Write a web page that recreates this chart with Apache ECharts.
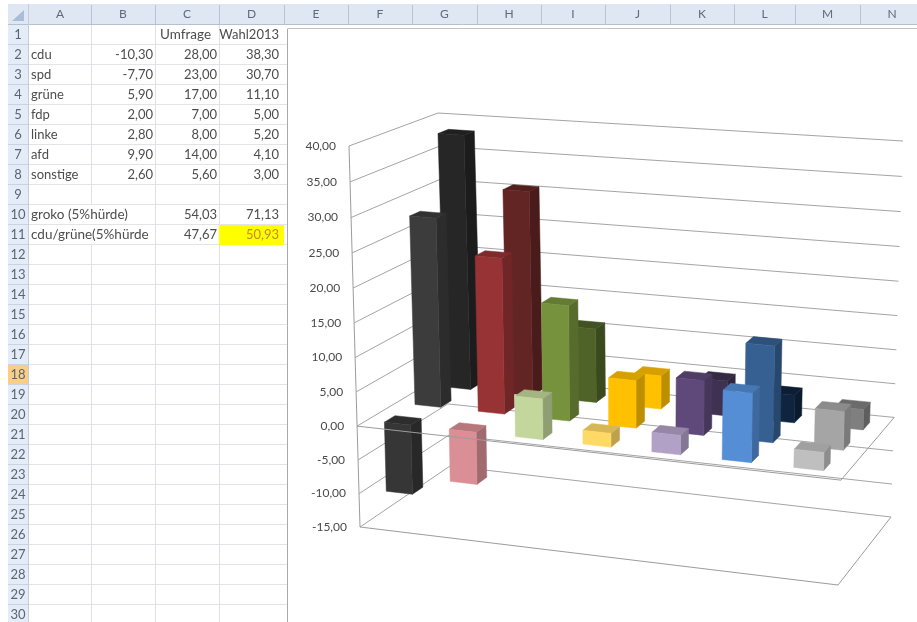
<!DOCTYPE html>
<html>
<head>
<meta charset="utf-8">
<style>html,body{margin:0;padding:0;background:#fff}#chart{width:917px;height:622px}</style>
<script src="https://cdn.jsdelivr.net/npm/echarts@6/dist/echarts.min.js"></script>
</head>
<body>
<div id="chart"></div>
<script>
// tabelle
var parties = ['cdu', 'spd', 'grüne', 'fdp', 'linke', 'afd', 'sonstige'];
var differenz = [-10.3, -7.7, 5.9, 2, 2.8, 9.9, 2.6];
var umfrage = [28, 23, 17, 7, 8, 14, 5.6];
var wahl2013 = [38.3, 30.7, 11.1, 5, 5.2, 4.1, 3];
var summenLabels = ['groko (5%hürde)', 'cdu/grüne(5%hürde'];
var summenUmfrage = [54.03, 47.67];
var summenWahl = [71.13, 50.93];
var columnLetters = ['A', 'B', 'C', 'D', 'E', 'F', 'G', 'H', 'I', 'J', 'K', 'L', 'M', 'N'];
var yTicks = [40, 35, 30, 25, 20, 15, 10, 5, 0, -5, -10, -15];

// farben je reihe (vorne, mitte, hinten)
var colorsFront = ['#363636', '#d98f95', '#c3d69b', '#ffd966', '#b2a1c7', '#558ed5', '#bfbfbf'];
var colorsMiddle = ['#3c3c3c', '#973235', '#76923c', '#ffc000', '#5f497a', '#366092', '#a5a5a5'];
var colorsBack = ['#262626', '#632523', '#4f6228', '#ffc000', '#3f3151', '#0f243e', '#7f7f7f'];

// ecken des 3d-rahmens: [vorne/hinten][links/rechts][oben/unten]
var cube = {
    flt: [349, 146], flb: [360, 527],
    blt: [438, 113], blb: [450, 466],
    frt: [849, 189], frb: [838, 585],
    brt: [903, 141], brb: [891, 517]
};

function mix(a, b, t) {
    return [a[0] + (b[0] - a[0]) * t, a[1] + (b[1] - a[1]) * t];
}

// u: 0..1 links-rechts, d: 0..1 vorne-hinten, f: 0..1 oben-unten
function project(u, d, f) {
    var uu = u - 0.07 * u * (1 - u);
    var ff = f + 0.04 * f * (1 - f);
    var left = mix(mix(cube.flt, cube.flb, ff), mix(cube.blt, cube.blb, ff), d);
    var right = mix(mix(cube.frt, cube.frb, ff), mix(cube.brt, cube.brb, ff), d);
    return mix(left, right, uu);
}

function toUnit(params, pt) {
    var cs = params.coordSys;
    return [(pt[0] - cs.x) / cs.width, (pt[1] - cs.y) / cs.height];
}

// farbe abdunkeln
function shade(hex, k) {
    var n = parseInt(hex.slice(1), 16);
    var r = Math.round((n >> 16) * k);
    var g = Math.round(((n >> 8) & 255) * k);
    var b = Math.round((n & 255) * k);
    return 'rgb(' + r + ',' + g + ',' + b + ')';
}

function line(a, b, color) {
    return {
        type: 'line',
        shape: { x1: a[0], y1: a[1], x2: b[0], y2: b[1] },
        style: { stroke: color, lineWidth: 1, fill: null }
    };
}

function poly(points, color) {
    return {
        type: 'polygon',
        shape: { points: points },
        style: { fill: color, stroke: color, lineWidth: 0.5 }
    };
}

function barRenderer(colors, d0, d1) {
    return function (params, api) {
        var i = api.value(0);
        var band = api.size([1, 0])[0] / params.coordSys.width;
        var center = toUnit(params, api.coord([i, 0]));
        var shift = 0.01 * d0; // hintere reihen etwas nach rechts
        var u0 = center[0] - 0.235 * band + shift;
        var u1 = center[0] + 0.175 * band + shift;
        var fZero = center[1];
        var fVal = toUnit(params, api.coord([i, api.value(1)]))[1];
        var fTop = Math.min(fZero, fVal);
        var fBottom = Math.max(fZero, fVal);
        var col = colors[i];
        return {
            type: 'group',
            children: [
                poly([project(u1, d0, fTop), project(u1, d1, fTop), project(u1, d1, fBottom), project(u1, d0, fBottom)], shade(col, 0.74)),
                poly([project(u0, d0, fTop), project(u0, d1, fTop), project(u1, d1, fTop), project(u1, d0, fTop)], shade(col, 0.84)),
                poly([project(u0, d0, fTop), project(u1, d0, fTop), project(u1, d0, fBottom), project(u0, d0, fBottom)], col)
            ]
        };
    };
}

function renderTick(params, api) {
    var f = toUnit(params, api.coord([0, api.value(1)]))[1];
    var front = project(0, 0, f);
    var corner = project(0, 1, f);
    var end = project(1, 1, f);
    return {
        type: 'group',
        children: [
            line(front, corner, '#a4a4a4'),
            line(corner, end, '#a4a4a4'),
            {
                type: 'text',
                style: {
                    x: front[0] - 13,
                    y: front[1],
                    text: api.value(1).toFixed(2).replace('.', ','),
                    align: 'right',
                    verticalAlign: 'middle',
                    fill: '#4a4a4a',
                    font: '12px Lato'
                }
            }
        ]
    };
}

function renderFrame(params, api) {
    var fZero = toUnit(params, api.coord([0, 0]))[1];
    return {
        type: 'group',
        children: [
            line(project(0, 0, 0), project(0, 0, 1), '#9c9c9c'),
            line(project(0, 0, 1), project(1, 0, 1), '#9c9c9c'),
            line(project(1, 0, 1), project(1, 1, 1), '#9c9c9c'),
            line(project(1, 0, fZero), project(1, 1, fZero), '#9c9c9c')
        ]
    };
}

function renderFloorEdge(params, api) {
    var fZero = toUnit(params, api.coord([0, 0]))[1];
    return line(project(0, 0, fZero), project(1, 0, fZero), '#9c9c9c');
}

function fmt(v) {
    return v.toFixed(2).replace('.', ',');
}

// ---- tabellenblatt als graphic ----
var colX = [29, 91, 155, 219, 284, 348, 412, 477, 541, 605, 670, 734, 795, 860, 924];
var rowTop = 25, rowH = 20, rowCount = 30, sheetBottom = 622;

function rowY(r) {
    return rowTop + rowH * (r - 1);
}

function sheetText(x, r, text, align, fill, size) {
    return {
        type: 'text',
        z: 3,
        style: {
            x: x, y: rowY(r) + rowH / 2, text: text, align: align, verticalAlign: 'middle',
            fill: fill || '#4d4d4d', font: (size || 13) + 'px Lato'
        }
    };
}

function sheetLine(x1, y1, x2, y2, color) {
    return {
        type: 'line',
        z: 2,
        shape: { x1: x1, y1: y1, x2: x2, y2: y2 },
        style: { stroke: color, lineWidth: 1 }
    };
}

function buildSheet() {
    var els = [];
    // kopfzeile
    els.push({ type: 'rect', z: 1, shape: { x: 8, y: 4, width: 909, height: 20 }, style: { fill: '#dfe7f2' } });
    els.push({ type: 'rect', z: 1, shape: { x: 8, y: 24, width: 20, height: 598 }, style: { fill: '#e3ecf7' } });
    els.push({ type: 'polygon', z: 2, shape: { points: [[24, 10], [24, 21], [12, 21]] }, style: { fill: '#a9bdd6' } });
    els.push({ type: 'rect', z: 1, shape: { x: 8, y: rowY(18), width: 20, height: rowH }, style: { fill: '#f8cf85' } });
    els.push(sheetLine(8, 24.5, 917, 24.5, '#b4c0cf'));
    els.push(sheetLine(28.5, 4, 28.5, 622, '#c3cedd'));
    columnLetters.forEach(function (c, k) {
        els.push({
            type: 'text', z: 3,
            style: { x: (colX[k] + colX[k + 1]) / 2, y: 14, text: c, align: 'center', verticalAlign: 'middle', fill: '#5d6b7c', font: '12px Lato' }
        });
        if (k > 0) els.push(sheetLine(colX[k] + 0.5, 5, colX[k] + 0.5, 24, '#b8c4d3'));
    });
    for (var r = 1; r <= rowCount; r++) {
        els.push(sheetText(18, r, String(r), 'center', '#5a6673'));
        els.push(sheetLine(8, rowY(r) + rowH - 0.5, 28, rowY(r) + rowH - 0.5, '#c9d4e2'));
        els.push(sheetLine(29, rowY(r) + rowH - 0.5, 287, rowY(r) + rowH - 0.5, '#e2e4e7'));
    }
    // spaltenlinien, A|B in zeile 10/11 vom langen text verdeckt
    els.push(sheetLine(91.5, 25, 91.5, rowY(10), '#dfe1e5'));
    els.push(sheetLine(91.5, rowY(12), 91.5, sheetBottom, '#dfe1e5'));
    els.push(sheetLine(155.5, 25, 155.5, sheetBottom, '#dfe1e5'));
    els.push(sheetLine(219.5, 25, 219.5, sheetBottom, '#dfe1e5'));
    // diagrammrahmen
    els.push({ type: 'rect', z: 2, shape: { x: 288, y: 25, width: 629, height: 597 }, style: { fill: '#fff' } });
    els.push(sheetLine(287.5, 29, 287.5, sheetBottom, '#a9a9a9'));
    els.push(sheetLine(287.5, 28.5, 917, 28.5, '#c4c4c4'));

    els.push(sheetText(160, 1, 'Umfrage', 'left', null, 13.5));
    els.push(sheetText(279, 1, 'Wahl2013', 'right'));
    parties.forEach(function (p, k) {
        els.push(sheetText(31, k + 2, p, 'left'));
        els.push(sheetText(153, k + 2, fmt(differenz[k]), 'right'));
        els.push(sheetText(217, k + 2, fmt(umfrage[k]), 'right'));
        els.push(sheetText(279, k + 2, fmt(wahl2013[k]), 'right'));
    });
    summenLabels.forEach(function (s, k) {
        els.push(sheetText(31, k + 10, s, 'left', null, 13.5));
        els.push(sheetText(217, k + 10, fmt(summenUmfrage[k]), 'right'));
        els.push(sheetText(279, k + 10, fmt(summenWahl[k]), 'right', k === 1 ? '#c48a1c' : null));
    });
    // gelbe zelle D11
    els.push({ type: 'rect', z: 2, shape: { x: 219, y: rowY(11), width: 65, height: rowH }, style: { fill: '#ffff00' } });
    return els;
}

function rowData(values) {
    return values.map(function (v, i) { return [i, v]; });
}

var option = {
    animation: false,
    backgroundColor: '#fff',
    graphic: { elements: buildSheet() },
    grid: { left: 349, top: 146, width: 500, height: 381 },
    xAxis: { type: 'category', data: parties, show: false },
    yAxis: { type: 'value', min: -15, max: 40, interval: 5, show: false },
    series: [
        { type: 'custom', name: 'achsen', z: 3, silent: true, renderItem: renderTick, encode: { x: 0, y: 1 }, data: yTicks.map(function (t) { return [0, t]; }) },
        { type: 'custom', name: 'rahmen', z: 3, silent: true, renderItem: renderFrame, encode: { x: 0, y: 1 }, data: [[0, 0]] },
        { type: 'custom', name: 'Wahl2013', z: 4, renderItem: barRenderer(colorsBack, 0.77, 0.89), encode: { x: 0, y: 1 }, data: rowData(wahl2013) },
        { type: 'custom', name: 'Umfrage', z: 5, renderItem: barRenderer(colorsMiddle, 0.44, 0.56), encode: { x: 0, y: 1 }, data: rowData(umfrage) },
        { type: 'custom', name: 'Differenz', z: 6, renderItem: barRenderer(colorsFront, 0.11, 0.23), encode: { x: 0, y: 1 }, data: rowData(differenz) },
        { type: 'custom', name: 'boden', z: 7, silent: true, renderItem: renderFloorEdge, encode: { x: 0, y: 1 }, data: [[0, 0]] }
    ]
};

var chart = echarts.init(document.getElementById('chart'));
chart.setOption(option);
</script>
</body>
</html>
